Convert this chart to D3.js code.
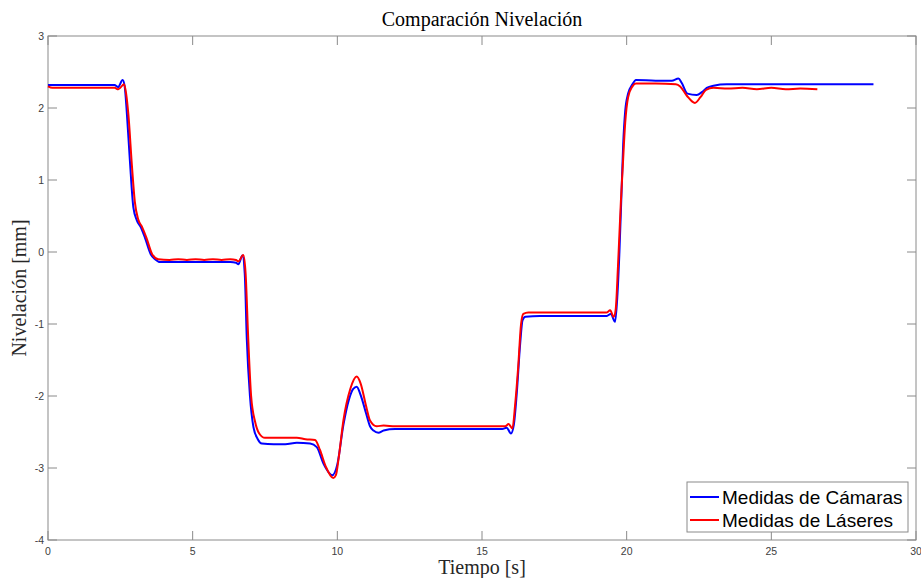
<!DOCTYPE html>
<html>
<head>
<meta charset="utf-8">
<script src="https://cdn.jsdelivr.net/npm/d3@7"></script>
<style>
  body { margin: 0; background: #fff; }
  svg { display: block; }
</style>
</head>
<body>
<div id="chart-area"></div>
<script>
// SVG Size
var width = 921,
	height = 578;

// Medidas de Cámaras
var camT = [0, 0.5, 1.0, 1.5, 2.0, 2.3, 2.42, 2.58, 2.65, 2.72, 2.83, 2.95, 3.07, 3.2, 3.35, 3.55, 3.7, 3.87,
	4.5, 5.5, 6.3, 6.5, 6.58, 6.72, 6.8, 6.87, 6.98, 7.1, 7.25, 7.39, 7.8, 8.2, 8.6, 9.06, 9.29, 9.52, 9.7, 9.82,
	10.0, 10.21, 10.4, 10.55, 10.67, 10.8, 11.0, 11.13, 11.25, 11.42, 11.6, 12.0, 13, 14, 15, 15.7, 15.85, 16.0,
	16.1, 16.2, 16.32, 16.4, 16.5, 17, 18, 19.3, 19.45, 19.6, 19.68, 19.75, 19.82, 19.88, 19.95, 20.05, 20.2, 20.32,
	21.0, 21.56, 21.79, 21.9, 22.1, 22.42, 22.6, 22.77, 23.0, 23.46, 24, 25, 26, 27, 28.53];
var camY = [2.32, 2.32, 2.32, 2.32, 2.32, 2.32, 2.29, 2.39, 2.3, 1.96, 1.27, 0.62, 0.44, 0.35, 0.2, -0.03, -0.1, -0.14,
	-0.14, -0.14, -0.14, -0.15, -0.17, -0.05, -0.3, -1.2, -2.0, -2.43, -2.6, -2.66, -2.67, -2.67, -2.65, -2.66, -2.71, -2.94, -3.06, -3.1,
	-2.95, -2.4, -2.05, -1.9, -1.87, -1.98, -2.25, -2.42, -2.48, -2.51, -2.48, -2.46, -2.46, -2.46, -2.46, -2.46, -2.44, -2.52,
	-2.4, -1.97, -1.27, -0.95, -0.9, -0.89, -0.89, -0.89, -0.86, -0.97, -0.6, 0.0, 0.8, 1.5, 1.96, 2.2, 2.33, 2.39,
	2.38, 2.38, 2.41, 2.35, 2.2, 2.18, 2.22, 2.28, 2.31, 2.33, 2.33, 2.33, 2.33, 2.33, 2.33];

// Medidas de Láseres
var lasT = [0, 0.15, 1.0, 2.0, 2.3, 2.43, 2.63, 2.7, 2.78, 2.9, 3.0, 3.12, 3.25, 3.4, 3.6, 3.81, 4.2, 4.5, 4.8, 5.1,
	5.4, 5.7, 6.0, 6.3, 6.5, 6.58, 6.75, 6.83, 6.92, 7.02, 7.16, 7.3, 7.5, 8.0, 8.6, 8.9, 9.23, 9.4, 9.6, 9.86, 9.95,
	10.05, 10.21, 10.45, 10.67, 10.8, 11.0, 11.13, 11.36, 11.6, 12, 13, 14, 15, 15.8, 15.92, 16.05, 16.15, 16.25,
	16.35, 16.43, 16.6, 17.5, 18.5, 19.3, 19.43, 19.55, 19.62, 19.7, 19.8, 19.86, 19.95, 20.05, 20.2, 20.32, 21.0,
	21.7, 21.85, 22.08, 22.36, 22.55, 22.74, 23, 23.5, 24, 24.5, 25, 25.5, 26, 26.59];
var lasY = [2.3, 2.28, 2.28, 2.28, 2.28, 2.26, 2.33, 2.2, 1.9, 1.2, 0.7, 0.45, 0.35, 0.2, -0.03, -0.1, -0.11, -0.1, -0.11, -0.1,
	-0.11, -0.1, -0.11, -0.1, -0.11, -0.13, -0.04, -0.3, -1.2, -2.0, -2.36, -2.52, -2.58, -2.58, -2.58, -2.6, -2.61, -2.75, -2.98, -3.14, -3.1,
	-2.85, -2.34, -1.9, -1.73, -1.82, -2.15, -2.34, -2.42, -2.41, -2.42, -2.42, -2.42, -2.42, -2.42, -2.39, -2.45, -2.1, -1.6,
	-1.0, -0.86, -0.84, -0.84, -0.84, -0.84, -0.81, -0.9, -0.8, -0.2, 0.7, 1.15, 1.8, 2.15, 2.3, 2.34, 2.34,
	2.33, 2.3, 2.17, 2.07, 2.15, 2.25, 2.28, 2.27, 2.28, 2.26, 2.28, 2.26, 2.27, 2.26];

var xTicks = [0, 5, 10, 15, 20, 25, 30];
var yTicks = [-4, -3, -2, -1, 0, 1, 2, 3];

var series = [
	{name: "Medidas de Cámaras", color: "#0000ff", t: camT, y: camY},
	{name: "Medidas de Láseres", color: "#ff0000", t: lasT, y: lasY}
];

var svg = d3.select("#chart-area")
	.append("svg")
	.attr("width", width)
	.attr("height", height);

var x = d3.scaleLinear().domain([0, 30]).range([48, 916]);
var y = d3.scaleLinear().domain([-4, 3]).range([540, 36]);

var axisColor = "#8a8a8a";
var tickLen = 9;

var g = svg.append("g");

// Box
g.append("rect")
	.attr("x", x(0))
	.attr("y", y(3))
	.attr("width", x(30) - x(0))
	.attr("height", y(-4) - y(3))
	.attr("fill", "none")
	.attr("stroke", axisColor)
	.attr("stroke-width", 1);

// Ticks (inside, on all four sides)
xTicks.forEach(function(d) {
	g.append("line").attr("x1", x(d)).attr("x2", x(d)).attr("y1", y(-4)).attr("y2", y(-4) - tickLen)
		.attr("stroke", axisColor);
	g.append("line").attr("x1", x(d)).attr("x2", x(d)).attr("y1", y(3)).attr("y2", y(3) + tickLen)
		.attr("stroke", axisColor);
	g.append("text").attr("x", x(d)).attr("y", y(-4) + 15)
		.attr("text-anchor", "middle")
		.attr("font-family", "Liberation Sans, Arial, sans-serif")
		.attr("font-size", 10.5)
		.attr("fill", "#404040")
		.text(d);
});
yTicks.forEach(function(d) {
	g.append("line").attr("x1", x(0)).attr("x2", x(0) + tickLen).attr("y1", y(d)).attr("y2", y(d))
		.attr("stroke", axisColor);
	g.append("line").attr("x1", x(30)).attr("x2", x(30) - tickLen).attr("y1", y(d)).attr("y2", y(d))
		.attr("stroke", axisColor);
	g.append("text").attr("x", x(0) - 4).attr("y", y(d) + 4)
		.attr("text-anchor", "end")
		.attr("font-family", "Liberation Sans, Arial, sans-serif")
		.attr("font-size", 10.5)
		.attr("fill", "#404040")
		.text(d);
});

// Lines
var line = d3.line()
	.x(function(d) { return x(d[0]); })
	.y(function(d) { return y(d[1]); })
	.curve(d3.curveMonotoneX);

series.forEach(function(s) {
	var pts = s.t.map(function(t, i) { return [t, s.y[i]]; });
	svg.append("path")
		.datum(pts)
		.attr("d", line)
		.attr("fill", "none")
		.attr("stroke", s.color)
		.attr("stroke-width", 2)
		.attr("stroke-linejoin", "round");
});

// Title and labels
svg.append("text")
	.attr("x", (x(0) + x(30)) / 2)
	.attr("y", 26)
	.attr("text-anchor", "middle")
	.attr("font-family", "Liberation Serif, Times New Roman, serif")
	.attr("font-size", 20)
	.attr("fill", "#000")
	.text("Comparación Nivelación");

svg.append("text")
	.attr("x", (x(0) + x(30)) / 2)
	.attr("y", 574)
	.attr("text-anchor", "middle")
	.attr("font-family", "Liberation Serif, Times New Roman, serif")
	.attr("font-size", 20)
	.attr("fill", "#262626")
	.text("Tiempo [s]");

svg.append("text")
	.attr("transform", "translate(26," + ((y(3) + y(-4)) / 2) + ") rotate(-90)")
	.attr("text-anchor", "middle")
	.attr("font-family", "Liberation Serif, Times New Roman, serif")
	.attr("font-size", 20)
	.attr("fill", "#262626")
	.text("Nivelación [mm]");

// Legend
var legend = svg.append("g").attr("transform", "translate(687,482)");
legend.append("rect")
	.attr("width", 221)
	.attr("height", 50)
	.attr("fill", "#fff")
	.attr("stroke", axisColor);
series.forEach(function(s, i) {
	var ly = 15 + i * 23;
	legend.append("line")
		.attr("x1", 3).attr("x2", 32).attr("y1", ly).attr("y2", ly)
		.attr("stroke", s.color).attr("stroke-width", 2);
	legend.append("text")
		.attr("x", 35).attr("y", ly + 7)
		.attr("font-family", "Liberation Sans, Arial, sans-serif")
		.attr("font-size", 19)
		.attr("fill", "#000")
		.text(s.name);
});
</script>
</body>
</html>
